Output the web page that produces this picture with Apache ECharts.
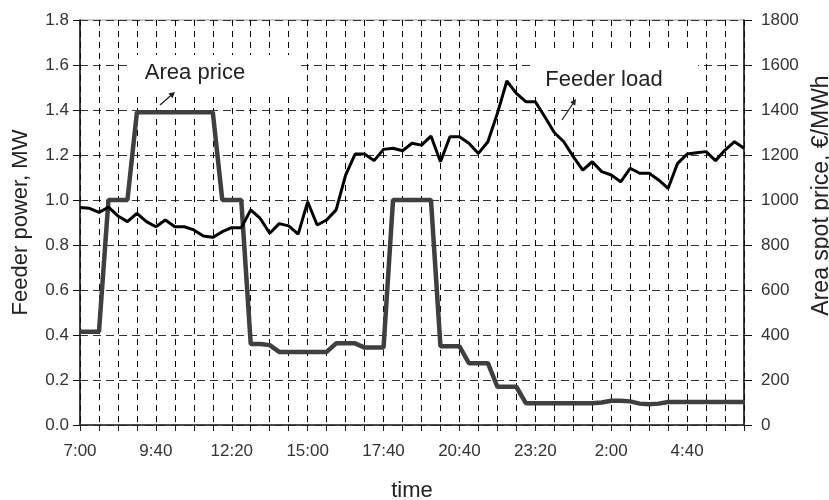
<!DOCTYPE html>
<html>
<head>
<meta charset="utf-8">
<script src="https://cdn.jsdelivr.net/npm/echarts@6/dist/echarts.min.js"></script>
<style>
  html, body { margin: 0; padding: 0; background: #fff; }
  #chart { width: 829px; height: 500px; }
</style>
</head>
<body>
<div id="chart"></div>
<script>
// 20-minute steps from 7:00 to 6:20 next morning
const times = [
  '7:00','7:20','7:40','8:00','8:20','8:40','9:00','9:20','9:40','10:00',
  '10:20','10:40','11:00','11:20','11:40','12:00','12:20','12:40','13:00','13:20',
  '13:40','14:00','14:20','14:40','15:00','15:20','15:40','16:00','16:20','16:40',
  '17:00','17:20','17:40','18:00','18:20','18:40','19:00','19:20','19:40','20:00',
  '20:20','20:40','21:00','21:20','21:40','22:00','22:20','22:40','23:00','23:20',
  '23:40','0:00','0:20','0:40','1:00','1:20','1:40','2:00','2:20','2:40',
  '3:00','3:20','3:40','4:00','4:20','4:40','5:00','5:20','5:40','6:00',
  '6:20'
];
// labels printed under every 8th category, as in the figure
const xTickLabels = ['7:00', '9:40', '12:20', '15:00', '17:40', '20:40', '23:20', '2:00', '4:40'];

// feeder load, MW (left axis)
const feederLoad = [
  0.967, 0.963, 0.945, 0.968, 0.929, 0.904, 0.941, 0.904, 0.881, 0.911,
  0.881, 0.881, 0.867, 0.840, 0.834, 0.859, 0.877, 0.877, 0.956, 0.918,
  0.852, 0.895, 0.885, 0.848, 0.992, 0.889, 0.911, 0.956, 1.111, 1.204,
  1.204, 1.175, 1.225, 1.230, 1.219, 1.252, 1.244, 1.284, 1.170, 1.281,
  1.281, 1.252, 1.207, 1.259, 1.385, 1.529, 1.474, 1.437, 1.437, 1.370,
  1.300, 1.259, 1.193, 1.133, 1.170, 1.126, 1.111, 1.081, 1.141, 1.119,
  1.119, 1.089, 1.052, 1.163, 1.204, 1.210, 1.215, 1.175, 1.222, 1.259,
  1.230
];

// area spot price, EUR/MWh (right axis)
const areaPrice = [
  415, 415, 415, 1000, 1000, 1000, 1390, 1390, 1390, 1390,
  1390, 1390, 1390, 1390, 1390, 1000, 1000, 1000, 360, 360,
  355, 325, 325, 325, 325, 325, 325, 363, 363, 363,
  344, 344, 344, 1000, 1000, 1000, 1000, 1000, 350, 350,
  350, 275, 275, 275, 170, 170, 170, 97, 97, 97,
  97, 97, 97, 97, 97, 100, 108, 108, 105, 95,
  92, 95, 102, 102, 102, 102, 102, 102, 102, 102,
  102
];

const FONT = '"Liberation Sans", Arial, sans-serif';

const chart = echarts.init(document.getElementById('chart'));
chart.setOption({
  animation: false,
  backgroundColor: '#fff',
  textStyle: { fontFamily: FONT },
  grid: {
    left: 80, right: 85, top: 20, bottom: 75,
    containLabel: false, outerBoundsMode: 'none',
    show: true, borderColor: '#999', borderWidth: 1, backgroundColor: 'transparent'
  },
  xAxis: {
    type: 'category',
    data: times,
    boundaryGap: false,
    name: 'time',
    nameLocation: 'middle',
    nameGap: 55,
    nameTextStyle: { fontSize: 22, color: '#222', fontFamily: FONT },
    axisLine: { lineStyle: { color: '#222', width: 1.5 } },
    axisTick: { interval: 1, length: 6, lineStyle: { color: '#222' } },
    axisLabel: {
      interval: 7, margin: 18, fontSize: 17, color: '#333', fontFamily: FONT,
      formatter: (v, i) => xTickLabels[i / 8] || ''
    },
    splitLine: { show: true, interval: 1, lineStyle: { color: '#000', type: [6, 5], width: 1 } }
  },
  yAxis: [{
    type: 'value',
    min: 0, max: 1.8, interval: 0.2,
    name: 'Feeder power, MW',
    nameLocation: 'middle',
    nameRotate: 90,
    nameGap: 48,
    nameTextStyle: { fontSize: 22, color: '#222', fontFamily: FONT },
    axisLine: { show: true, lineStyle: { color: '#111', width: 1.5 } },
    axisTick: { show: true, length: 7, lineStyle: { color: '#111' } },
    axisLabel: { margin: 11, fontSize: 17, color: '#333', fontFamily: FONT, formatter: v => v.toFixed(1) },
    splitLine: { show: true, lineStyle: { color: '#333', type: [8, 5], width: 1 } }
  }, {
    type: 'value',
    position: 'right',
    min: 0, max: 1800, interval: 200,
    name: 'Area spot price, €/MWh',
    nameLocation: 'middle',
    nameRotate: 90,
    nameGap: 64,
    nameTextStyle: { fontSize: 23, color: '#222', fontFamily: FONT, padding: [0, 0, 0, 54] },
    axisLine: { show: true, lineStyle: { color: '#111', width: 1.5 } },
    axisTick: { show: true, length: 8, lineStyle: { color: '#111' } },
    axisLabel: { margin: 17, fontSize: 17, color: '#333', fontFamily: FONT, formatter: v => String(v) },
    splitLine: { show: false }
  }],
  series: [{
    name: 'Area price',
    type: 'line',
    yAxisIndex: 1,
    data: areaPrice,
    showSymbol: false,
    lineStyle: { color: '#3f3f3f', width: 4.5 },
    z: 3
  }, {
    name: 'Feeder load',
    type: 'line',
    yAxisIndex: 0,
    data: feederLoad,
    showSymbol: false,
    lineStyle: { color: '#000', width: 3 },
    z: 4
  }],
  graphic: [
    { type: 'rect', z: 50, shape: { x: 130, y: 55, width: 167, height: 37 }, style: { fill: '#fff' } },
    { type: 'text', z: 51, x: 195, y: 73,
      style: { text: 'Area price', font: '22px ' + FONT, fill: '#222', align: 'center', verticalAlign: 'middle' } },
    { type: 'line', z: 51, shape: { x1: 160, y1: 105, x2: 172, y2: 94.5 }, style: { stroke: '#222', lineWidth: 1.3 } },
    { type: 'polygon', z: 51, shape: { points: [[175, 92], [172.5, 98.2], [168.5, 93.6]] }, style: { fill: '#222' } },

    { type: 'rect', z: 50, shape: { x: 533, y: 52, width: 165, height: 45 }, style: { fill: '#fff' } },
    { type: 'text', z: 51, x: 604, y: 80,
      style: { text: 'Feeder load', font: '22px ' + FONT, fill: '#222', align: 'center', verticalAlign: 'middle' } },
    { type: 'line', z: 51, shape: { x1: 562, y1: 120, x2: 574, y2: 102 }, style: { stroke: '#222', lineWidth: 1.3 } },
    { type: 'polygon', z: 51, shape: { points: [[576, 99], [575.2, 105.7], [570.2, 102.3]] }, style: { fill: '#222' } }
  ]
});
</script>
</body>
</html>
